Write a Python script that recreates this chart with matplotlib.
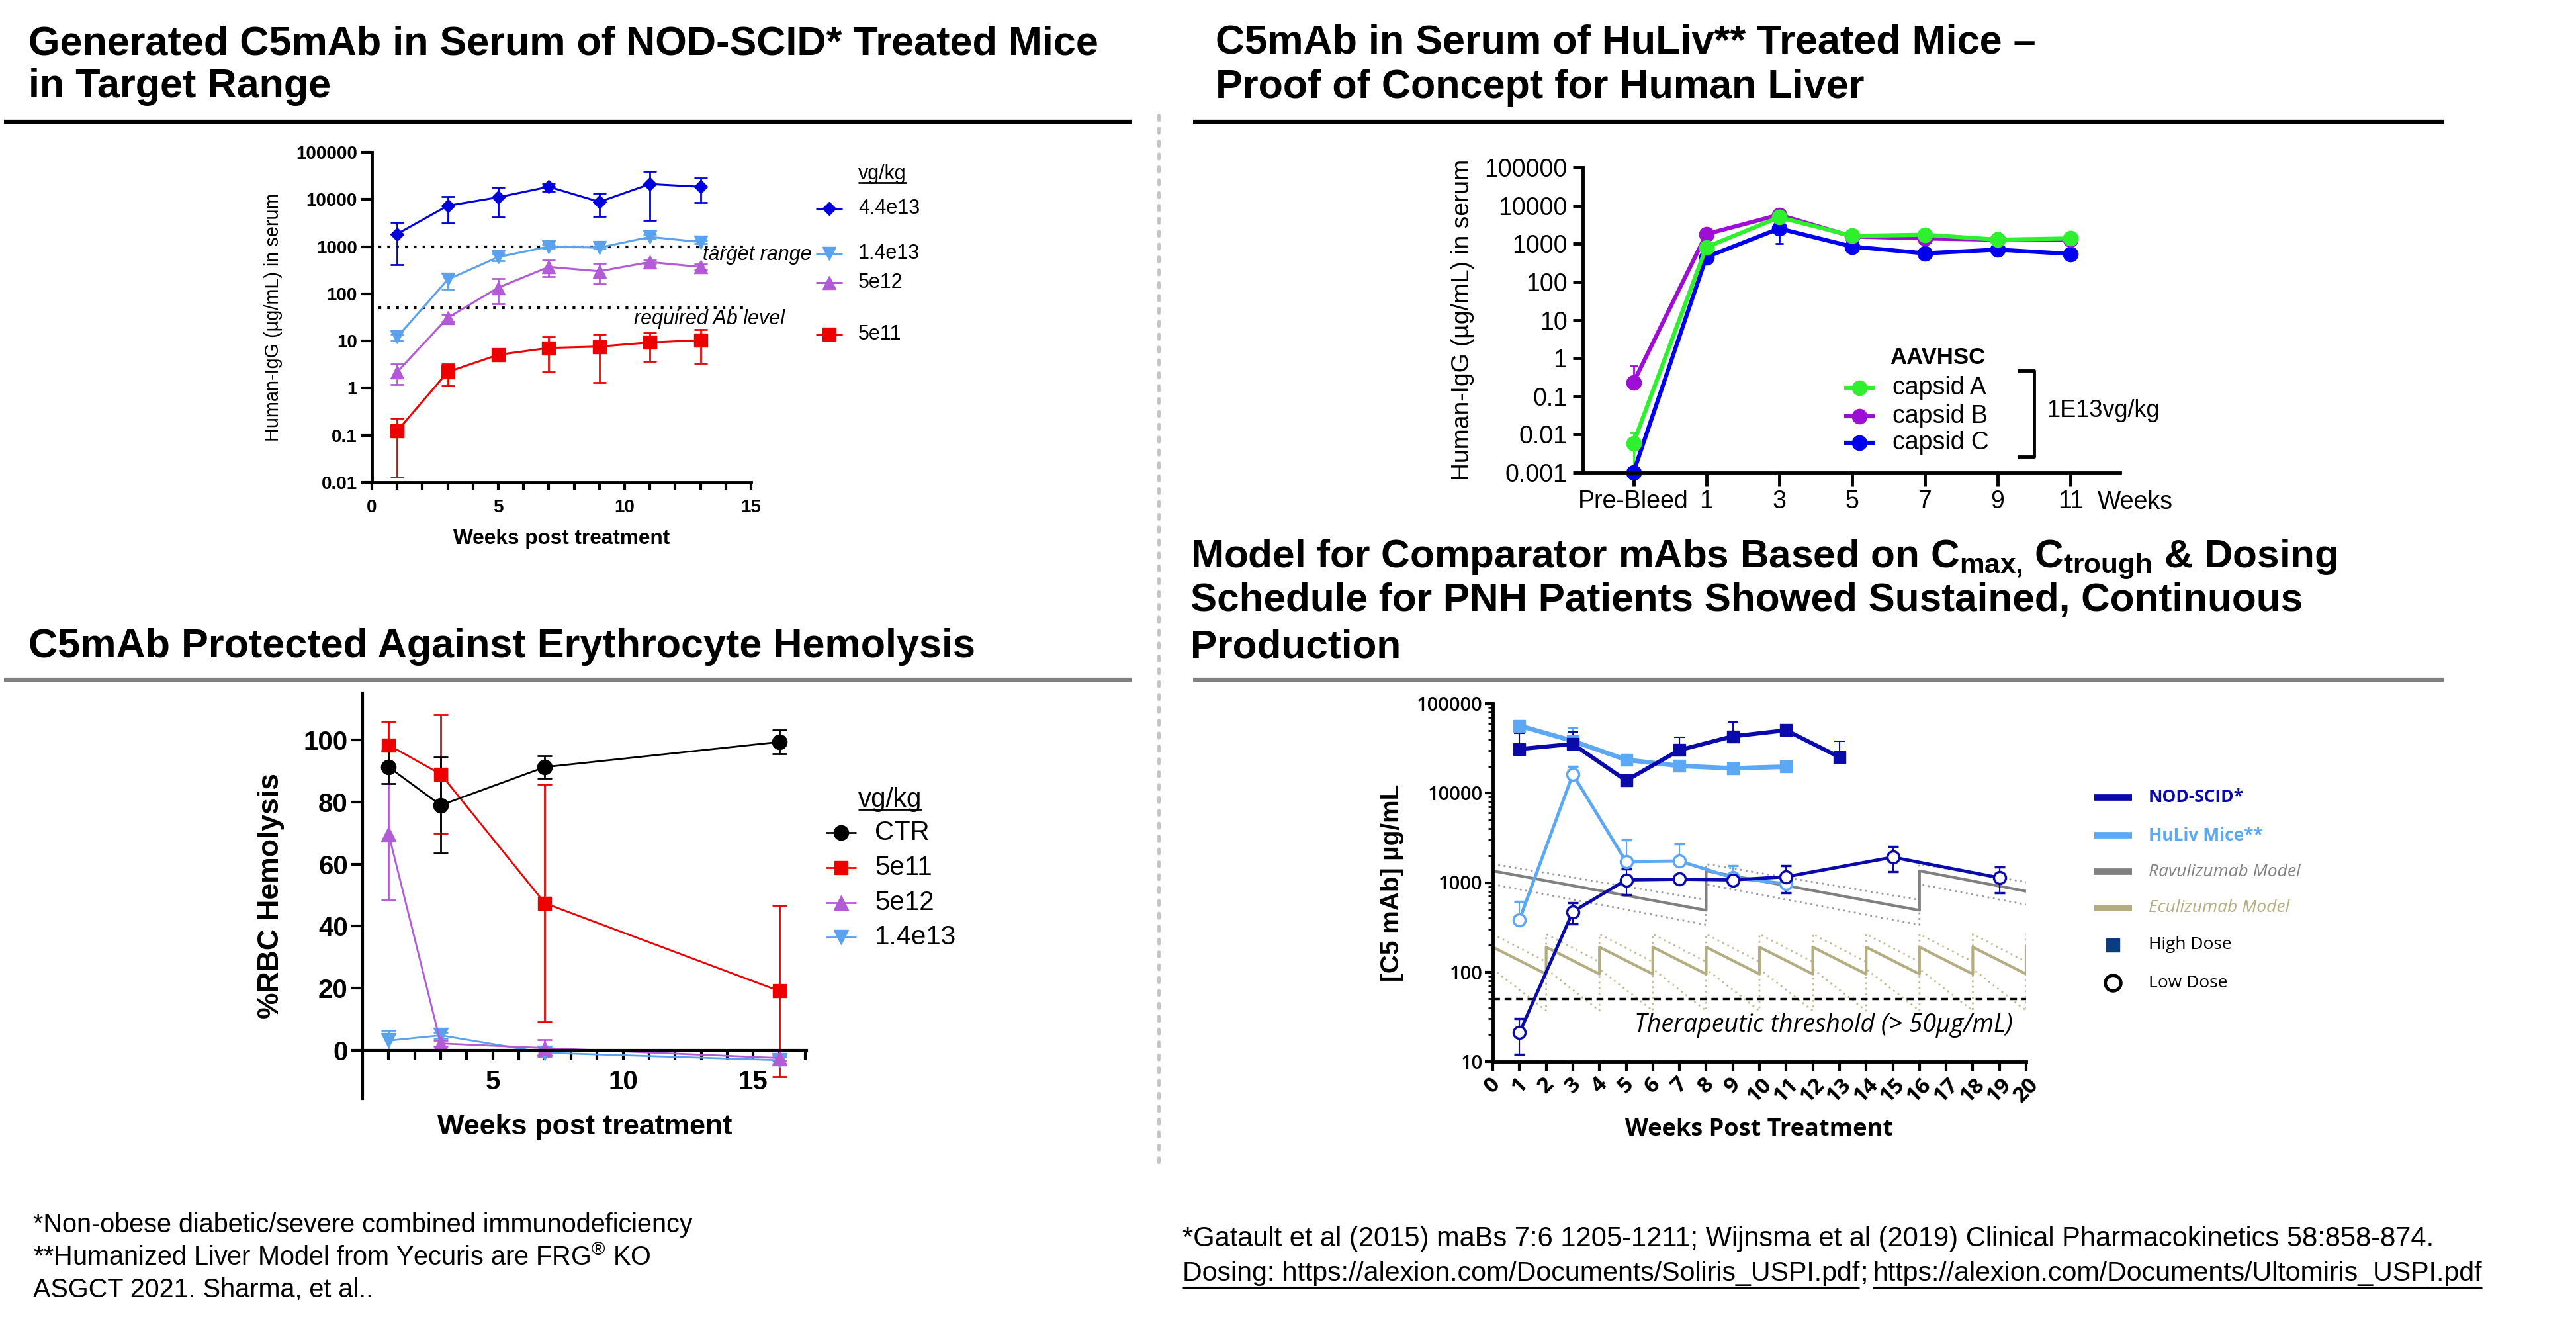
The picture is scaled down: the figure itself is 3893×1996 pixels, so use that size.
import numpy as np
import matplotlib.pyplot as plt
from matplotlib.ticker import NullLocator

plt.rcParams['font.family'] = ['Liberation Sans', 'DejaVu Sans']
plt.rcParams['mathtext.fontset'] = 'custom'
plt.rcParams['mathtext.rm'] = 'Liberation Sans'
plt.rcParams['mathtext.it'] = 'Liberation Sans:italic'
plt.rcParams['mathtext.bf'] = 'Liberation Sans:bold'

# ---------------- data: panel 1 (NOD-SCID, human IgG) ----------------
p1_weeks = [1, 3, 5, 7, 9, 11, 13]
p1_44e13 = [1850, 7340, 11100, 18500, 8860, 21100, 18500]
p1_44e13_sd = [1440, 4220, 6900, 3500, 4540, 17500, 9900]
p1_14e13 = [12, 200, 600, 1000, 950, 1600, 1250]
p1_14e13_sd = [2, 75, 100, 80, 60, 150, 100]
p1_5e12 = [2.2, 31, 135, 370, 300, 470, 370]
p1_5e12_sd = [1.0, 5, 73, 140, 140, 50, 50]
p1_5e11 = [0.123, 2.2, 5.1, 7.1, 7.6, 9.3, 10.4]
p1_5e11_sd = [0.11, 1.07, 1.0, 4.9, 6.3, 5.6, 7.1]
p1_yticks = [0.01, 0.1, 1, 10, 100, 1000, 10000, 100000]
p1_ylabels = ['0.01', '0.1', '1', '10', '100', '1000', '10000', '100000']
p1_target = 1000
p1_required = 50

# ---------------- data: panel 2 (HuLiv) ----------------
p2_x = [-1, 1, 3, 5, 7, 9, 11]
p2_xlabels = ['Pre-Bleed', '1', '3', '5', '7', '9', '11']
capA = [0.0059, 810, 4940, 1600, 1720, 1275, 1375]
capA_lo = [0.005, 150, 600, 150, 150, 100, 100]
capA_hi = [0.005, 150, 600, 150, 150, 100, 100]
capB = [0.23, 1780, 5740, 1550, 1375, 1275, 1275]
capB_lo = [0, 300, 700, 150, 150, 100, 100]
capB_hi = [0.39, 660, 700, 150, 150, 100, 100]
capC = [0.001, 445, 2500, 840, 560, 700, 540]
capC_lo = [0, 100, 1480, 150, 100, 150, 100]
capC_hi = [0, 100, 1480, 150, 100, 150, 100]
p2_yticks = [0.001, 0.01, 0.1, 1, 10, 100, 1000, 10000, 100000]
p2_ylabels = ['0.001', '0.01', '0.1', '1', '10', '100', '1000', '10000', '100000']

# ---------------- data: panel 3 (hemolysis) ----------------
p3_weeks = [1, 3, 7, 16]
ctr = [91.3, 79.0, 91.3, 99.4]
ctr_sd = [5.4, 15.4, 3.6, 3.9]
h5e11 = [98.4, 89.0, 47.4, 19.1]
h5e11_sd = [7.6, 19.1, 38.3, 27.6]
h5e12 = [69.7, 2.2, 0.7, -2.5]
h5e12_sd = [21.2, 1.0, 2.7, 1.0]
h14e13 = [3.1, 4.8, -0.8, -3.2]
h14e13_sd = [3.2, 1.0, 1.0, 1.0]

# ---------------- data: panel 4 (comparator model) ----------------
nod_hi_x = [1, 3, 5, 7, 9, 11, 13]
nod_hi = [31000, 35300, 13800, 30200, 43000, 50200, 25200]
nod_hi_sd = [15400, 13000, 0, 12100, 19500, 3000, 12500]
huliv_hi_x = [1, 3, 5, 7, 9, 11]
huliv_hi = [56500, 38200, 23500, 20100, 18900, 19700]
huliv_hi_sd = [0, 15000, 0, 0, 0, 2000]
nod_lo_x = [1, 3, 5, 7, 9, 11, 15, 19]
nod_lo = [21, 472, 1070, 1090, 1070, 1160, 1920, 1130]
nod_lo_sd = [9, 125, 340, 60, 130, 390, 590, 360]
huliv_lo_x = [1, 3, 5, 7, 9, 11]
huliv_lo = [385, 16200, 1710, 1740, 1130, 968]
huliv_lo_sd = [230, 3700, 1300, 980, 420, 100]
rav_x = [0, 8, 8, 16, 16, 20]
rav_y = [1350, 490, 1350, 490, 1350, 800]
rav_hi = [1610, 640, 1610, 640, 1610, 1010]
rav_lo = [955, 337, 955, 337, 955, 567]
ecu_x = [0, 2, 2, 4, 4, 6, 6, 8, 8, 10, 10, 12, 12, 14, 14, 16, 16, 18, 18, 20, 20]
ecu_y = [190, 95, 190, 95, 190, 95, 190, 95, 190, 95, 190, 95, 190, 95, 190, 95, 190, 95, 190, 95, 190]
ecu_hi = [265, 130, 265, 130, 265, 130, 265, 130, 265, 130, 265, 130, 265, 130, 265, 130, 265, 130, 265, 130, 265]
ecu_lo = [108, 37, 108, 37, 108, 37, 108, 37, 108, 37, 108, 37, 108, 37, 108, 37, 108, 37, 108, 37, 108]
threshold = 50
p4_yticks = [10, 100, 1000, 10000, 100000]
p4_ylabels = ['10', '100', '1000', '10000', '100000']

# colours
c_blue = '#0000dc'
c_lblue = '#5aa2ee'
c_purple = '#b35ad6'
c_red = '#ee0000'
c_green = '#2ef02e'
c_violet = '#9d0fd4'
c_pure = '#0000ee'
c_nod = '#0a0aaa'
c_huliv = '#5ca8f4'
c_rav = '#808080'
c_ecu = '#b4ad80'

W, H = 3893, 1996
fig = plt.figure(figsize=(W / 100, H / 100), dpi=100)


def place(l, t, r, b):
    return fig.add_axes([l / W, 1 - b / H, (r - l) / W, (b - t) / H])


def spines(ax, lw):
    ax.spines['top'].set_visible(False)
    ax.spines['right'].set_visible(False)
    ax.spines['left'].set_linewidth(lw)
    ax.spines['bottom'].set_linewidth(lw)


# ================= panel 1 =================
ax1 = place(562, 230, 1135, 729)
ax1.set_yscale('log')
ax1.set_xlim(0, 15)
ax1.set_ylim(0.01, 100000)
ax1.hlines([p1_target, p1_required], 0.25, 14.75, colors='black',
           linestyles=(0, (1, 2.2)), lw=3)
for vals, sd, col, mk, ms in [(p1_5e11, p1_5e11_sd, c_red, 's', 14),
                              (p1_5e12, p1_5e12_sd, c_purple, '^', 15),
                              (p1_14e13, p1_14e13_sd, c_lblue, 'v', 15),
                              (p1_44e13, p1_44e13_sd, c_blue, 'D', 10)]:
    ax1.errorbar(p1_weeks, vals, yerr=sd, color=col, marker=mk, ms=ms, lw=2.2,
                 elinewidth=2, capsize=7, capthick=2, clip_on=False)
ax1.set_yticks(p1_yticks)
ax1.set_yticklabels(p1_ylabels, fontweight='bold', fontsize=20)
ax1.yaxis.set_minor_locator(NullLocator())
ax1.set_xticks([0, 5, 10, 15])
ax1.set_xticklabels(['0', '5', '10', '15'], fontweight='bold', fontsize=20)
ax1.set_xticks(np.arange(0, 16), minor=True)
ax1.tick_params(axis='y', length=12, width=3, pad=4)
ax1.tick_params(axis='x', which='both', length=8, width=3, pad=10)
spines(ax1, 3.5)
ax1.set_xlabel('Weeks post treatment', fontsize=22.7, fontweight='bold', va='center')
ax1.xaxis.set_label_coords(0.5, (729 - 814) / 499)
ax1.set_ylabel('Human-IgG (µg/mL) in serum', fontsize=20.8, va='center')
ax1.yaxis.set_label_coords((413 - 562) / 573, 0.5)
ax1.text(13.09, 670, 'target range', fontsize=22, style='italic', va='center')
ax1.text(10.37, 29.2, 'required Ab level', fontsize=22, style='italic', va='center')

# ================= panel 2 =================
ax2 = place(2392, 253, 3204, 714)
ax2.set_yscale('log')
ax2.set_xlim(-2.39, 12.36)
ax2.set_ylim(0.001, 100000)
for vals, lo, hi, col in [(capC, capC_lo, capC_hi, c_pure),
                          (capB, capB_lo, capB_hi, c_violet),
                          (capA, capA_lo, capA_hi, c_green)]:
    ax2.errorbar(p2_x, vals, yerr=[lo, hi], color=col, marker='o', ms=16, lw=4.5,
                 elinewidth=2, capsize=4, capthick=2, clip_on=False)
ax2.set_yticks(p2_yticks)
ax2.set_yticklabels(p2_ylabels, fontsize=27)
ax2.yaxis.set_minor_locator(NullLocator())
ax2.set_xticks(p2_x)
ax2.set_xticklabels(p2_xlabels, fontsize=27)
ax2.tick_params(axis='y', length=11, width=3.5, pad=6)
ax2.tick_params(axis='x', length=15, width=3.5, pad=4)
spines(ax2, 3.5)
ax2.set_ylabel('Human-IgG (µg/mL) in serum', fontsize=26.8, va='center')
ax2.yaxis.set_label_coords((2210 - 2392) / 812, 0.5)

# ================= panel 3 =================
ax3 = place(548, 1047, 1219, 1660)
ax3.set_xlim(0, 17.05)
ax3.set_ylim(-15.6, 115.2)
ax3.spines['bottom'].set_position(('data', 0))
for vals, sd, col, mk, ms in [(h14e13, h14e13_sd, c_lblue, 'v', 16),
                              (h5e12, h5e12_sd, c_purple, '^', 16),
                              (h5e11, h5e11_sd, c_red, 's', 15),
                              (ctr, ctr_sd, 'black', 'o', 16)]:
    ax3.errorbar(p3_weeks, vals, yerr=sd, color=col, marker=mk, ms=ms, lw=2,
                 elinewidth=2, capsize=8, capthick=2, clip_on=False)
ax3.set_yticks([0, 20, 40, 60, 80, 100])
ax3.set_yticklabels(['0', '20', '40', '60', '80', '100'], fontweight='bold', fontsize=29)
ax3.set_xticks([5, 10, 15])
ax3.set_xticklabels(['5', '10', '15'], fontweight='bold', fontsize=29)
ax3.set_xticks(np.arange(1, 18), minor=True)
ax3.tick_params(axis='y', length=12, width=3, pad=4)
ax3.tick_params(axis='x', which='both', length=11, width=3, pad=10)
spines(ax3, 3)
ax3.set_xlabel('Weeks post treatment', fontsize=31, fontweight='bold', va='center')
ax3.xaxis.set_label_coords(0.5, (1660 - 1703) / 613)
ax3.set_ylabel('%RBC Hemolysis', fontsize=32, fontweight='bold', va='center')
ax3.yaxis.set_label_coords((410 - 548) / 671, 0.5)

# ================= panel 4 =================
f4 = ['Open Sans', 'DejaVu Sans']
ax4 = place(2256, 1063, 3062, 1604)
ax4.set_yscale('log')
ax4.set_xlim(0, 20)
ax4.set_ylim(10, 100000)
ax4.plot(rav_x, rav_hi, color='#9a9a9a', lw=2, ls=(0, (1, 2)))
ax4.plot(rav_x, rav_lo, color='#9a9a9a', lw=2, ls=(0, (1, 2)))
ax4.plot(ecu_x, ecu_hi, color='#c4bd92', lw=2, ls=(0, (1, 2)))
ax4.plot(ecu_x, ecu_lo, color='#c4bd92', lw=2, ls=(0, (1, 2)))
ax4.plot(rav_x, rav_y, color=c_rav, lw=3)
ax4.plot(ecu_x, ecu_y, color=c_ecu, lw=3)
ax4.axhline(threshold, color='black', lw=2.5, ls=(0, (3, 2)))
ax4.errorbar(huliv_hi_x, huliv_hi, yerr=[np.zeros(len(huliv_hi)), huliv_hi_sd], color=c_huliv,
             marker='s', ms=13, lw=5, elinewidth=1.5, capsize=6, capthick=1.5, clip_on=False)
ax4.errorbar(huliv_lo_x, huliv_lo, yerr=[np.zeros(len(huliv_lo)), huliv_lo_sd], color=c_huliv,
             marker='o', ms=13, mfc='white', mew=2.5, lw=3.5, elinewidth=1.5, capsize=6,
             capthick=1.5)
ax4.errorbar(nod_hi_x, nod_hi, yerr=[np.zeros(len(nod_hi)), nod_hi_sd], color=c_nod,
             marker='s', ms=13, lw=4.5, elinewidth=1.5, capsize=6, capthick=1.5, clip_on=False)
ax4.errorbar(nod_lo_x, nod_lo, yerr=nod_lo_sd, color=c_nod, marker='o', ms=13, mfc='white',
             mew=2.5, lw=3.5, elinewidth=1.5, capsize=6, capthick=1.5)
ax4.text(5.3, 25.5, 'Therapeutic threshold (> 50µg/mL)', fontsize=27, style='italic',
         family=f4, va='center')
ax4.set_yticks(p4_yticks)
ax4.set_yticklabels(p4_ylabels, fontsize=21, family=f4, fontweight='semibold')
ax4.set_xticks(np.arange(0, 21))
ax4.set_xticklabels([str(v) for v in range(0, 21)], fontsize=24, family=f4,
                    fontweight='bold', rotation=45)
ax4.tick_params(axis='y', which='major', length=9, width=3, pad=2)
ax4.tick_params(axis='y', which='minor', length=5, width=2)
ax4.tick_params(axis='x', length=10, width=3, pad=3)
spines(ax4, 3.5)
ax4.set_xlabel('Weeks Post Treatment', fontsize=26, fontweight='bold', family=f4, va='center')
ax4.xaxis.set_label_coords(0.5, (1604 - 1707) / 541)
ax4.set_ylabel('[C5 mAb] µg/mL', fontsize=28, fontweight='bold', va='center')
ax4.yaxis.set_label_coords((2104 - 2256) / 806, 0.5)

# ================= overlay: titles, rules, legends, notes =================
ov = fig.add_axes([0, 0, 1, 1])
ov.set_xlim(0, W)
ov.set_ylim(H, 0)
ov.axis('off')
ov.patch.set_alpha(0)

tk = dict(fontsize=44, fontweight='bold', va='baseline', ha='left')
tk3 = dict(tk, fontsize=43.4)
ov.text(43, 82, 'Generated C5mAb in Serum of NOD-SCID* Treated Mice', **tk)
ov.text(43, 147, 'in Target Range', **tk)
ov.text(1837, 80, 'C5mAb in Serum of HuLiv** Treated Mice –', **tk)
ov.text(1837, 148, 'Proof of Concept for Human Liver', **tk)
ov.text(1799, 858, r'Model for Comparator mAbs Based on C$_{\mathbf{max,}}\,$C$_{\mathbf{trough}}$ & Dosing', **tk3)
ov.text(1799, 923, 'Schedule for PNH Patients Showed Sustained, Continuous', **tk3)
ov.text(1799, 993, 'Production', **tk3)
ov.text(43, 993, 'C5mAb Protected Against Erythrocyte Hemolysis', **tk)

ov.plot([6, 1710], [184, 184], color='black', lw=4.5, solid_capstyle='butt')
ov.plot([1803, 3693], [184, 184], color='black', lw=4.5, solid_capstyle='butt')
ov.plot([6, 1710], [1027, 1027], color='#808080', lw=4.5, solid_capstyle='butt')
ov.plot([1803, 3693], [1027, 1027], color='#808080', lw=4.5, solid_capstyle='butt')
ov.plot([1751, 1751], [174, 1765], color='#c4c4c4', lw=3.5, ls=(0, (1.5, 2.5)),
        dash_capstyle='round')

r = fig.canvas.get_renderer()


def underline(t, y, lw=2.2):
    bb = t.get_window_extent(r)
    ov.plot([bb.x0, bb.x1], [y, y], color='black', lw=lw, solid_capstyle='butt')
    return bb


def key(x, y, col, mk, ms, lw, half, mfc=None, mew=None):
    ov.plot([x - half, x + half], [y, y], color=col, lw=lw, solid_capstyle='butt')
    ov.plot([x], [y], marker=mk, ms=ms, color=col, mfc=mfc or col, mew=mew, ls='none')


# panel 1 legend
t = ov.text(1297, 263, 'vg/kg', fontsize=22, va='center')
underline(t, 276, 2)
for y, col, mk, ms, lab in [(315, c_blue, 'D', 10, '4.4e13'), (383, c_lblue, 'v', 15, '1.4e13'),
                            (427, c_purple, '^', 15, '5e12'), (505, c_red, 's', 14, '5e11')]:
    key(1253, y, col, mk, ms, 2.2, 20)
    ov.text(1297, y, lab, fontsize=22, va='center')

# panel 2 legend
ov.text(2856, 541, 'AAVHSC', fontsize=25, fontweight='bold', va='center')
for y, col, lab in [(586, c_green, 'capsid A'), (629, c_violet, 'capsid B'), (669, c_pure, 'capsid C')]:
    key(2810, y, col, 'o', 16, 4.5, 23)
    ov.text(2860, y, lab, fontsize=27, va='center')
ov.plot([3051, 3074, 3074, 3051], [560, 560, 690, 690], color='black', lw=3.5)
ov.text(3093, 620, '1E13vg/kg', fontsize=26, va='center')
ov.text(3170, 759, 'Weeks', fontsize=27, va='center')

# panel 3 legend
t = ov.text(1345, 1208, 'vg/kg', fontsize=29, va='center', ha='center')
underline(t, 1223, 2)
for y, col, mk, ms, lab in [(1258, 'black', 'o', 16, 'CTR'), (1311, c_red, 's', 15, '5e11'),
                            (1364, c_purple, '^', 16, '5e12'), (1416, c_lblue, 'v', 16, '1.4e13')]:
    key(1271, y, col, mk, ms, 2, 23)
    ov.text(1322, y, lab, fontsize=29, va='center')

# panel 4 legend
for y, col, lab, sty, wt in [(1205, c_nod, 'NOD-SCID*', 'normal', 'bold'),
                             (1262, c_huliv, 'HuLiv Mice**', 'normal', 'bold'),
                             (1317, c_rav, 'Ravulizumab Model', 'italic', 'normal'),
                             (1372, c_ecu, 'Eculizumab Model', 'italic', 'normal')]:
    ov.plot([3165, 3222], [y, y], color=col, lw=7, solid_capstyle='butt')
    ov.text(3247, y, lab, fontsize=19, color=col, style=sty, fontweight=wt, family=f4, va='center')
ov.plot([3193], [1428], marker='s', ms=15, color='#0a3c82', ls='none')
ov.text(3247, 1428, 'High Dose', fontsize=19, family=f4, va='center')
ov.plot([3193], [1485], marker='o', ms=17, mfc='white', mec='black', mew=3.5, ls='none')
ov.text(3247, 1485, 'Low Dose', fontsize=19, family=f4, va='center')

# footnotes
fk = dict(fontsize=28.5, va='baseline', ha='left')
fr = dict(fontsize=30, va='baseline', ha='left')
ov.text(50, 1862, '*Non-obese diabetic/severe combined immunodeficiency', **fk)
ov.text(50, 1912, r'**Humanized Liver Model from Yecuris are FRG$^{\mathrm{®}}$ KO', **fk)
ov.text(50, 1960, 'ASGCT 2021. Sharma, et al..', **fk)
ov.text(1787, 1883, '*Gatault et al (2015) maBs 7:6 1205-1211; Wijnsma et al (2019) '
        'Clinical Pharmacokinetics 58:858-874.', **fr)
fr2 = dict(fr, fontsize=29.6)
t1 = ov.text(1787, 1935, 'Dosing: https://alexion.com/Documents/Soliris_USPI.pdf', **fr2)
b1 = underline(t1, 1945)
t2 = ov.text(b1.x1 + 1, 1935, ';', **fr2)
b2 = t2.get_window_extent(r)
t3 = ov.text(b2.x1 + 7, 1935, 'https://alexion.com/Documents/Ultomiris_USPI.pdf', **fr2)
underline(t3, 1945)

fig.savefig('out.png', dpi=100)
